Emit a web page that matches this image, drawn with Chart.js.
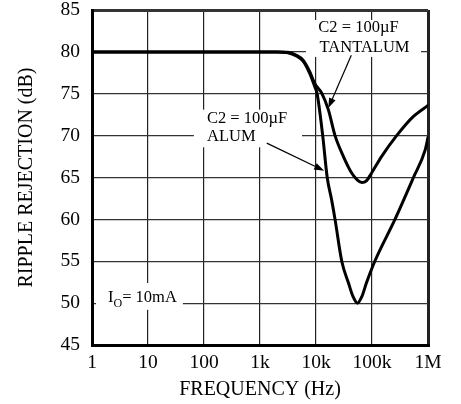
<!DOCTYPE html>
<html>
<head>
<meta charset="utf-8">
<script src="https://cdn.jsdelivr.net/npm/chart.js@4.4.1/dist/chart.umd.min.js"></script>
<style>
  html, body { margin: 0; padding: 0; background: #fff; }
  #wrap { width: 461px; height: 404px; position: relative; }
</style>
</head>
<body>
<div id="wrap"><canvas id="c"></canvas></div>
<script>
// ---- data ----
const tickValues = [1, 10, 100, 1000, 10000, 100000, 1000000];
const tickLabels = ['1', '10', '100', '1k', '10k', '100k', '1M'];
const yTicks = [45, 50, 55, 60, 65, 70, 75, 80, 85];

const alumFreq = [1, 2000, 3162, 4467, 5888, 7762, 9550, 10470, 13180, 15850, 19050, 21880, 28840, 38020, 45710, 54950, 66070, 79430, 112200, 257000, 549500, 891300, 1000000];
const alumDb   = [80, 80, 79.9, 79.5, 78.9, 77.4, 75.8, 75.0, 70.0, 65.0, 62.3, 60.0, 55.0, 52.4, 50.8, 50.0, 50.8, 52.4, 55.0, 60.0, 65.0, 68.3, 69.8];

const tantFreq = [1, 2000, 3162, 4467, 5888, 7762, 9550, 12590, 16600, 21880, 30900, 43650, 54950, 66070, 79430, 97700, 147900, 275400, 549500, 1000000];
const tantDb   = [80, 80, 79.95, 79.6, 79.0, 77.6, 76.2, 75.1, 73.1, 70.0, 67.5, 65.5, 64.7, 64.4, 64.6, 65.5, 67.5, 70.0, 72.3, 73.6];

const FONT = 'Liberation Serif';

function pts(fs, ds) { return fs.map((f, i) => ({ x: f, y: ds[i] })); }

const annotations = {
  id: 'annotations',
  beforeDatasetsDraw(chart) {
    const { ctx } = chart;
    const X = v => chart.scales.x.getPixelForValue(v);
    const Y = v => chart.scales.y.getPixelForValue(v);
    ctx.save();
    ctx.fillStyle = '#fff';
    const box = (f1, f2, d1, d2) => {
      const x1 = X(f1), x2 = X(f2), y1 = Y(d1), y2 = Y(d2);
      ctx.fillRect(x1, y1, x2 - x1, y2 - y1);
    };
    box(6600, 750000, 83.8, 79.4);   // tantalum label
    box(66, 5620, 73.1, 68.6);       // alum label
    box(1.18, 42, 52.4, 49.2);       // Io label
    ctx.restore();
  },
  afterDatasetsDraw(chart) {
    const { ctx } = chart;
    const X = v => chart.scales.x.getPixelForValue(v);
    const Y = v => chart.scales.y.getPixelForValue(v);
    ctx.save();
    ctx.fillStyle = '#000';
    ctx.strokeStyle = '#000';
    ctx.textBaseline = 'middle';
    ctx.textAlign = 'left';
    ctx.font = '16.5px "' + FONT + '"';
    ctx.fillText('C2 = 100\u00B5F', X(11000), Y(82.85));
    ctx.fillText('TANTALUM', X(11600), Y(80.5));
    ctx.fillText('C2 = 100\u00B5F', X(113), Y(72.0));
    ctx.fillText('ALUM', X(113), Y(69.85));

    // Io = 10mA
    ctx.textBaseline = 'alphabetic';
    const bx = X(1.93), by = Y(50.15);
    ctx.fillText('I', bx, by);
    const wI = ctx.measureText('I').width;
    ctx.font = '12px "' + FONT + '"';
    ctx.fillText('O', bx + wI, by + 5);
    const wO = ctx.measureText('O').width;
    ctx.font = '16.5px "' + FONT + '"';
    ctx.fillText('= 10mA', bx + wI + wO, by);

    // arrows
    const arrow = (fx, dx, tx, ty) => {
      const x1 = X(fx), y1 = Y(dx), x2 = X(tx), y2 = Y(ty);
      const a = Math.atan2(y2 - y1, x2 - x1);
      const L = 10, W = 3.5;
      ctx.lineWidth = 1.2;
      ctx.beginPath();
      ctx.moveTo(x1, y1);
      ctx.lineTo(x2 - Math.cos(a) * L * 0.8, y2 - Math.sin(a) * L * 0.8);
      ctx.stroke();
      ctx.beginPath();
      ctx.moveTo(x2, y2);
      ctx.lineTo(x2 - Math.cos(a) * L - Math.sin(a) * W, y2 - Math.sin(a) * L + Math.cos(a) * W);
      ctx.lineTo(x2 - Math.cos(a) * L + Math.sin(a) * W, y2 - Math.sin(a) * L - Math.cos(a) * W);
      ctx.closePath();
      ctx.fill();
    };
    arrow(42700, 79.6, 16600, 73.3);
    arrow(1320, 69.1, 14000, 65.8);
    ctx.restore();
  }
};

const edgeW = (v, a, b) => (v === a || v === b) ? 3 : 1.2;

new Chart(document.getElementById('c'), {
  type: 'line',
  data: {
    datasets: [
      { label: 'C2 = 100\u00B5F TANTALUM', data: pts(tantFreq, tantDb) },
      { label: 'C2 = 100\u00B5F ALUM', data: pts(alumFreq, alumDb) }
    ]
  },
  options: {
    responsive: true,
    maintainAspectRatio: false,
    animation: false,
    devicePixelRatio: 1,
    layout: { padding: { left: 0, top: 0, right: 33, bottom: 0 } },
    elements: {
      point: { radius: 0 },
      line: { borderColor: '#000', borderWidth: 3, cubicInterpolationMode: 'monotone', fill: false, borderJoinStyle: 'round', borderCapStyle: 'round' }
    },
    plugins: { legend: { display: false }, tooltip: { enabled: false } },
    scales: {
      x: {
        type: 'logarithmic',
        min: 1, max: 1000000,
        afterBuildTicks: s => { s.ticks = tickValues.map(v => ({ value: v })); },
        afterFit: s => { s.height = 59; },
        ticks: {
          autoSkip: false, maxRotation: 0, color: '#000', padding: 6,
          font: { family: FONT, size: 19.5 },
          callback: v => { const i = tickValues.indexOf(v); return i >= 0 ? tickLabels[i] : ''; }
        },
        grid: { color: '#222', drawTicks: false, lineWidth: c => edgeW(c.tick && c.tick.value, 1, 1000000) },
        border: { display: true, color: '#000', width: 3 },
        title: { display: true, text: 'FREQUENCY (Hz)', color: '#000', font: { family: FONT, size: 20 }, padding: { top: 0, bottom: 2 } }
      },
      y: {
        type: 'linear',
        min: 45, max: 85,
        afterBuildTicks: s => { s.ticks = yTicks.map(v => ({ value: v })); },
        afterFit: s => { s.width = 92; s.paddingTop = 10; s.paddingBottom = 0; },
        ticks: { color: '#000', padding: 12, font: { family: FONT, size: 19.5, lineHeight: 1.0 } },
        grid: { color: '#333', drawTicks: false, lineWidth: c => edgeW(c.tick && c.tick.value, 45, 85) },
        border: { display: true, color: '#000', width: 3 },
        title: { display: true, text: 'RIPPLE REJECTION (dB)', color: '#000', font: { family: FONT, size: 20 }, padding: { top: 15, bottom: 0 } }
      }
    }
  },
  plugins: [annotations]
});
</script>
</body>
</html>
